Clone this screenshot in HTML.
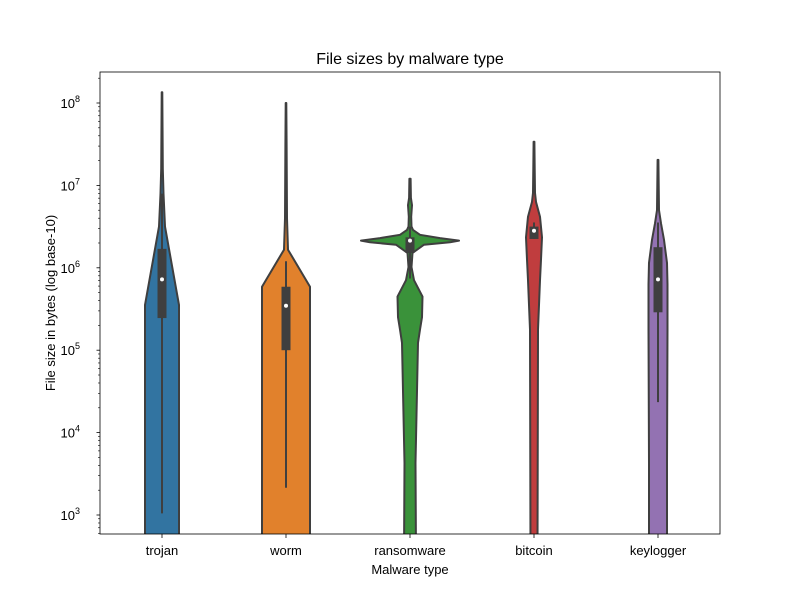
<!DOCTYPE html>
<html><head><meta charset="utf-8"><style>
body{margin:0;background:#fff;}
svg text{font-family:"Liberation Sans","DejaVu Sans",sans-serif;fill:#000;}
</style></head><body>
<svg id="chart" width="800" height="600" viewBox="0 0 800 600">
<defs><clipPath id="plotclip"><rect x="100" y="72" width="620" height="462"/></clipPath></defs>
<g id="violins" clip-path="url(#plotclip)"></g>
<g id="axes"></g>
</svg>
<script>
const categories = ["trojan","worm","ransomware","bitcoin","keylogger"];
const colors = ["#3274a1","#e1812c","#3a923a","#c03d3e","#9372b2"];
// violin profiles: log10 bytes and half-widths (px)
const profileLogs = [
  [2.5,5.55,6.5,6.9,7.2,8.13],
  [2.5,5.77,6.22,6.6,7.5,8.0],
  [2.5,3.63,5.09,5.25,5.40,5.65,5.85,6.01,6.18,6.28,6.31,6.33,6.36,6.40,6.46,6.50,6.62,6.76,6.85,7.08],
  [2.5,5.25,5.85,6.1,6.37,6.62,6.80,6.91,7.2,7.53],
  [2.5,3.63,5.25,5.8,6.06,6.34,6.54,6.70,7.0,7.31]
];
const profileWidths = [
  [17,17,3,1.5,0.8,0.3],
  [24,24,2,1,0.6,0.3],
  [6,5.5,8,10,12,12.5,4,1.5,2.5,14,40,49,30,10,3,1.5,1.2,2,0.9,0.6],
  [3.5,4,6,7,8,6,2,1,0.7,0.4],
  [9,9,9.5,9.5,9,6,3,1,0.7,0.4]
];
const q1 = [5.39,5.0,6.18,6.35,5.46];
const q3 = [6.23,5.77,6.37,6.50,6.25];
const medians = [5.86,5.54,6.33,6.45,5.86];
const whiskLo = [3.02,3.33,5.87,6.35,4.37];
const whiskHi = [6.9,6.08,6.50,6.55,6.55];
const yTicks = [3,4,5,6,7,8];

const X0=100,X1=720,Y0=72,Y1=534;
function xPos(i){return X0+(i+0.5)*(X1-X0)/categories.length;}
function yPos(lg){return 515-(lg-3)*82.4;}
const NS="http://www.w3.org/2000/svg";
function mk(tag,attrs,parent){const e=document.createElementNS(NS,tag);for(const k in attrs)e.setAttribute(k,attrs[k]);parent.appendChild(e);return e;}
const vg=document.getElementById('violins'), ag=document.getElementById('axes');

categories.forEach((c,i)=>{
  const cx=xPos(i), L=profileLogs[i], W=profileWidths[i];
  let right=L.map((l,j)=>[cx+W[j],yPos(l)]);
  let left=L.map((l,j)=>[cx-W[j],yPos(l)]).reverse();
  let pts=right.concat(left).map(p=>p[0].toFixed(1)+","+p[1].toFixed(1)).join(" ");
  const v=mk('polygon',{points:pts,fill:colors[i],stroke:'#3f3f3f','stroke-width':2,'stroke-linejoin':'round'},vg);
  
  
  const w=mk('line',{x1:cx,x2:cx,y1:yPos(whiskLo[i]),y2:yPos(whiskHi[i]),stroke:'#3f3f3f','stroke-width':2},vg);
  
  
  const b=mk('rect',{x:cx-4.5,width:9,y:yPos(q3[i]),height:yPos(q1[i])-yPos(q3[i]),fill:'#3f3f3f'},vg);
  
  
  const m=mk('circle',{cx:cx,cy:yPos(medians[i]),r:2,fill:'#fff'},vg);
  
  
  const t=mk('line',{x1:cx,x2:cx,y1:Y1,y2:Y1+4,stroke:'#000','stroke-width':0.8},ag);
  
  
  const tl=mk('text',{x:cx,y:555,'text-anchor':'middle','font-size':13},ag);
  tl.textContent=c;
  
  
});

for(let d=2;d<=8;d++){
  for(let k=1;k<10;k++){
    const lg=d+Math.log10(k), y=yPos(lg);
    if(y<Y0||y>Y1) continue;
    const major=k===1;
    const t=mk('line',{x1:X0,x2:X0-(major?3.5:2),y1:y,y2:y,stroke:'#000','stroke-width':major?0.8:0.6},ag);
    
    
  }
}
yTicks.forEach(d=>{
  const y=yPos(d);
  const tx=mk('text',{x:80,y:y+5,'text-anchor':'end','font-size':13},ag);
  tx.textContent='10';
  const s=mk('tspan',{dy:-6,'font-size':9},tx);
  s.textContent=String(d);
  
  
});

const frame=mk('rect',{x:X0,y:Y0,width:X1-X0,height:Y1-Y0,fill:'none',stroke:'#000','stroke-width':0.8},ag);


const title=mk('text',{x:410,y:64,'text-anchor':'middle','font-size':16},ag);
title.textContent='File sizes by malware type';


const xl=mk('text',{x:410,y:574,'text-anchor':'middle','font-size':13},ag);
xl.textContent='Malware type';


const yl=mk('text',{x:0,y:0,'text-anchor':'middle','font-size':13,transform:'translate(55,303) rotate(-90)'},ag);
yl.textContent='File size in bytes (log base-10)';


</script>
</body></html>
